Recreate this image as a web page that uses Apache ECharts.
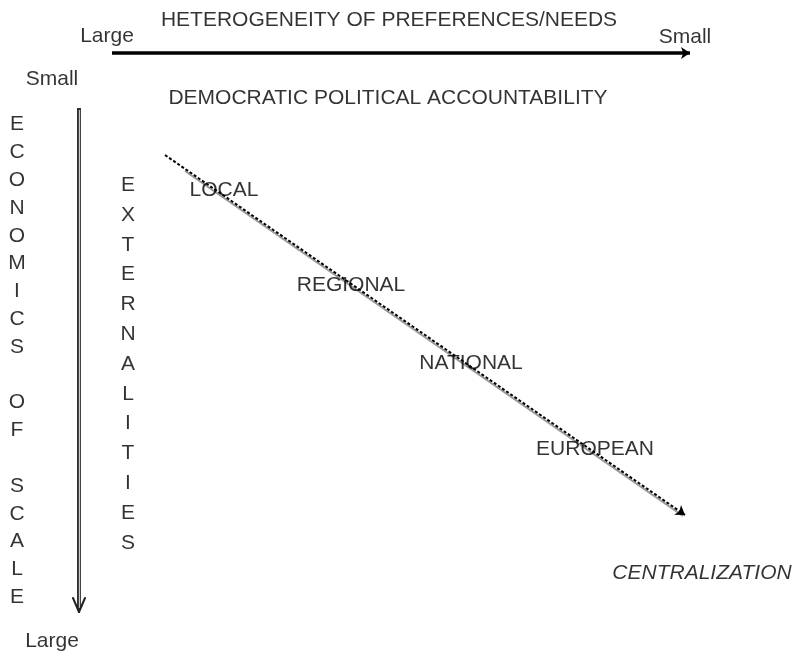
<!DOCTYPE html>
<html>
<head>
<meta charset="utf-8">
<script src="https://cdn.jsdelivr.net/npm/echarts@6/dist/echarts.min.js"></script>
<style>html,body{margin:0;padding:0;background:#fff}#c{width:792px;height:658px}</style>
</head>
<body>
<div id="c"></div>
<script>
// Diagram coordinate space: x 0..792, y 0..658 (top-down)
const headTexts = ['HETEROGENEITY OF PREFERENCES/NEEDS', 'Large', 'Small', 'DEMOCRATIC POLITICAL ACCOUNTABILITY', 'Small', 'Large'];
const headX = [389, 107, 685, 388, 52, 52];
const headY = [20, 36, 37, 98, 79, 641];

const levels = ['LOCAL', 'REGIONAL', 'NATIONAL', 'EUROPEAN'];
const levelX = [224, 351, 471, 595];
const levelY = [190, 285, 363, 449];

const endLabel = ['CENTRALIZATION'];
const endX = [702];
const endY = [573];

const verticalWords = ['ECONOMICS OF SCALE', 'EXTERNALITIES'];
const verticalX = [17, 128];
const verticalY = [361, 364];
const verticalStep = [27.8, 29.8];

// arrows: [x1, y1, x2, y2]
const hArrow = [112, 53, 690, 53];
const vArrow = [79, 108, 79, 612];
const dArrow = [165, 155, 685, 515];

const FONT = '"Liberation Sans", Arial, sans-serif';

function pts(xs, ys, names) {
  return names.map((n, i) => ({ value: [xs[i], ys[i]], name: n }));
}

const chart = echarts.init(document.getElementById('c'), null, { renderer: 'canvas' });

const textStyle = { show: true, position: 'inside', align: 'center', verticalAlign: 'middle', color: '#000', fontFamily: FONT, fontSize: 21, formatter: p => p.name };

// chevron head for vertical arrow, derived from the arrow's end
const vHead = [
  { coords: [[vArrow[2] - 6, vArrow[3] - 14], [vArrow[2], vArrow[3]]] },
  { coords: [[vArrow[2] + 6, vArrow[3] - 14], [vArrow[2], vArrow[3]]] }
];

chart.setOption({
  animation: false,
  grid: { left: 0, right: 0, top: 0, bottom: 0 },
  xAxis: { type: 'value', min: 0, max: 792, show: false },
  yAxis: { type: 'value', min: 0, max: 658, inverse: true, show: false },
  series: [
    {
      type: 'lines', coordinateSystem: 'cartesian2d', z: 2,
      symbol: ['none', 'arrow'], symbolSize: [0, 9],
      lineStyle: { color: '#000', width: 3.5, opacity: 1 },
      data: [{ coords: [[hArrow[0], hArrow[1]], [hArrow[2], hArrow[3]]] }]
    },
    {
      type: 'lines', coordinateSystem: 'cartesian2d', z: 2,
      symbol: 'none',
      lineStyle: { color: '#333', width: 4, opacity: 1 },
      data: [{ coords: [[vArrow[0], vArrow[1]], [vArrow[2], vArrow[3] - 2]] }]
    },
    {
      type: 'lines', coordinateSystem: 'cartesian2d', z: 3,
      symbol: 'none',
      lineStyle: { color: '#ccc', width: 1.2, opacity: 1 },
      data: [{ coords: [[vArrow[0], vArrow[1] + 2], [vArrow[2], vArrow[3] - 4]] }]
    },
    {
      type: 'lines', coordinateSystem: 'cartesian2d', z: 3,
      symbol: 'none',
      lineStyle: { color: '#222', width: 2, opacity: 1, cap: 'round' },
      data: vHead
    },
    {
      type: 'lines', coordinateSystem: 'cartesian2d', z: 2,
      symbol: 'none',
      lineStyle: { color: '#999', width: 2, opacity: 1 },
      data: [{ coords: [[dArrow[0] + 20, dArrow[1] + 16], [dArrow[2] - 2, dArrow[3] + 1]] }]
    },
    {
      type: 'lines', coordinateSystem: 'cartesian2d', z: 3,
      symbol: ['none', 'arrow'], symbolSize: [0, 9],
      lineStyle: { color: '#000', width: 2, type: [3, 2], opacity: 1 },
      data: [{ coords: [[dArrow[0], dArrow[1]], [dArrow[2], dArrow[3]]] }]
    },
    {
      type: 'scatter', symbolSize: 0, z: 5,
      label: textStyle,
      data: pts(headX, headY, headTexts)
    },
    {
      type: 'scatter', symbolSize: 0, z: 5,
      label: textStyle,
      data: pts(levelX, levelY, levels)
    },
    {
      type: 'scatter', symbolSize: 0, z: 5,
      label: Object.assign({}, textStyle, { fontStyle: 'italic' }),
      data: pts(endX, endY, endLabel)
    },
    {
      type: 'scatter', symbolSize: 0, z: 5,
      label: textStyle,
      data: verticalWords.map((w, i) => ({
        value: [verticalX[i], verticalY[i]], name: w,
        label: { lineHeight: verticalStep[i], formatter: () => w.split('').join('\n') }
      }))
    }
  ]
});
</script>
</body>
</html>
